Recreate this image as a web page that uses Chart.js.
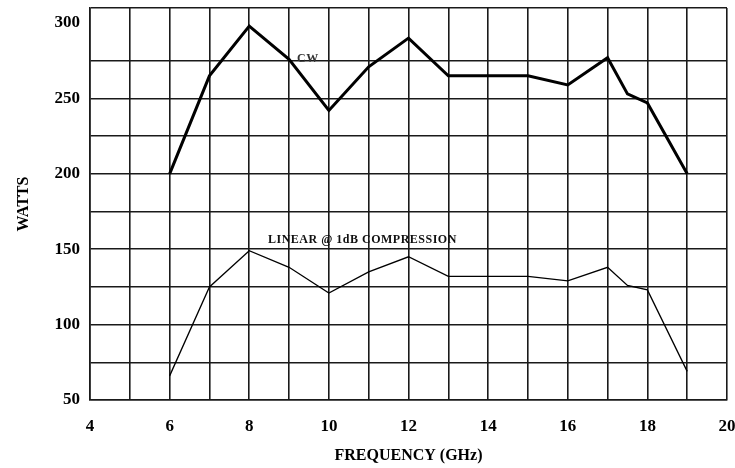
<!DOCTYPE html>
<html>
<head>
<meta charset="utf-8">
<script src="https://cdn.jsdelivr.net/npm/chart.js@4/dist/chart.umd.min.js"></script>
<style>
  html, body { margin: 0; padding: 0; background: #fff; }
  #wrap { width: 735px; height: 468px; }
</style>
</head>
<body>
<div id="wrap"><canvas id="c"></canvas></div>
<script>
const freq   = [6, 7, 8, 9, 10, 11, 12, 13, 14, 15, 16, 17, 17.5, 18, 19];
const cw     = [200, 265, 298, 276, 242, 271, 290, 265, 265, 265, 259, 277, 253, 247, 200];
const linear = [66, 125, 149, 138, 121, 135, 145, 132, 132, 132, 129, 138, 126, 123, 69];
const yTicks = [50, 75, 100, 125, 150, 175, 200, 225, 250, 275, 300, 310];

const serif = '"Liberation Serif", "Times New Roman", serif';

// curve labels, placed in data units
const notes = [
  { text: 'CW', x: 9.2, y: 276.5, size: 12, color: '#333' },
  { text: 'LINEAR @ 1dB COMPRESSION', x: 8.47, y: 156, size: 12, color: '#111' }
];

const notePlugin = {
  id: 'notes',
  afterDatasetsDraw(chart) {
    const { ctx, scales } = chart;
    ctx.save();
    ctx.textAlign = 'left';
    ctx.textBaseline = 'middle';
    ctx.letterSpacing = '0.5px';
    notes.forEach(n => {
      ctx.font = `bold ${n.size}px ${serif}`;
      ctx.fillStyle = n.color;
      ctx.fillText(n.text, scales.x.getPixelForValue(n.x), scales.y.getPixelForValue(n.y));
    });
    ctx.restore();
  }
};

new Chart(document.getElementById('c').getContext('2d'), {
  type: 'line',
  data: {
    datasets: [
      {
        label: 'CW',
        data: freq.map((f, i) => ({ x: f, y: cw[i] })),
        borderColor: '#000', borderWidth: 3,
        pointRadius: 0, tension: 0
      },
      {
        label: 'LINEAR @ 1dB COMPRESSION',
        data: freq.map((f, i) => ({ x: f, y: linear[i] })),
        borderColor: '#000', borderWidth: 1.3,
        pointRadius: 0, tension: 0
      }
    ]
  },
  options: {
    responsive: true,
    maintainAspectRatio: false,
    animation: false,
    layout: { padding: { top: 8, right: 8, left: 0, bottom: 0 } },
    plugins: { legend: { display: false }, tooltip: { enabled: false } },
    scales: {
      x: {
        type: 'linear', min: 4, max: 20,
        ticks: {
          stepSize: 1, color: '#000', padding: 16,
          font: { family: serif, size: 17, weight: 'bold' },
          callback: v => (v % 2 === 0 ? v : '')
        },
        grid: { color: '#1a1a1a', lineWidth: 1.6, drawTicks: false },
        border: { color: '#1a1a1a', width: 1.6 },
        title: {
          display: true, text: 'FREQUENCY (GHz)', color: '#000',
          font: { family: serif, size: 16, weight: 'bold' },
          padding: { top: 0, bottom: 3 }
        },
        afterFit: s => { s.height = 68; s.paddingLeft = 0; s.paddingRight = 0; }
      },
      y: {
        min: 50, max: 310,
        afterBuildTicks: s => { s.ticks = yTicks.map(v => ({ value: v })); },
        ticks: {
          color: '#000', padding: 10,
          font: { family: serif, size: 17, weight: 'bold' },
          callback: v => (v % 50 === 0 ? v : '')
        },
        grid: {
          color: c => (c.tick && c.tick.value === 300 ? 'rgba(0,0,0,0)' : '#1a1a1a'),
          lineWidth: 1.6, drawTicks: false
        },
        border: { color: '#1a1a1a', width: 1.6 },
        title: {
          display: true, text: 'WATTS', color: '#000',
          font: { family: serif, size: 16, weight: 'bold' },
          padding: { top: 14, bottom: 0 }
        },
        afterFit: s => { s.width = 90; s.paddingTop = 0; s.paddingBottom = 0; }
      }
    }
  },
  plugins: [notePlugin]
});
</script>
</body>
</html>
